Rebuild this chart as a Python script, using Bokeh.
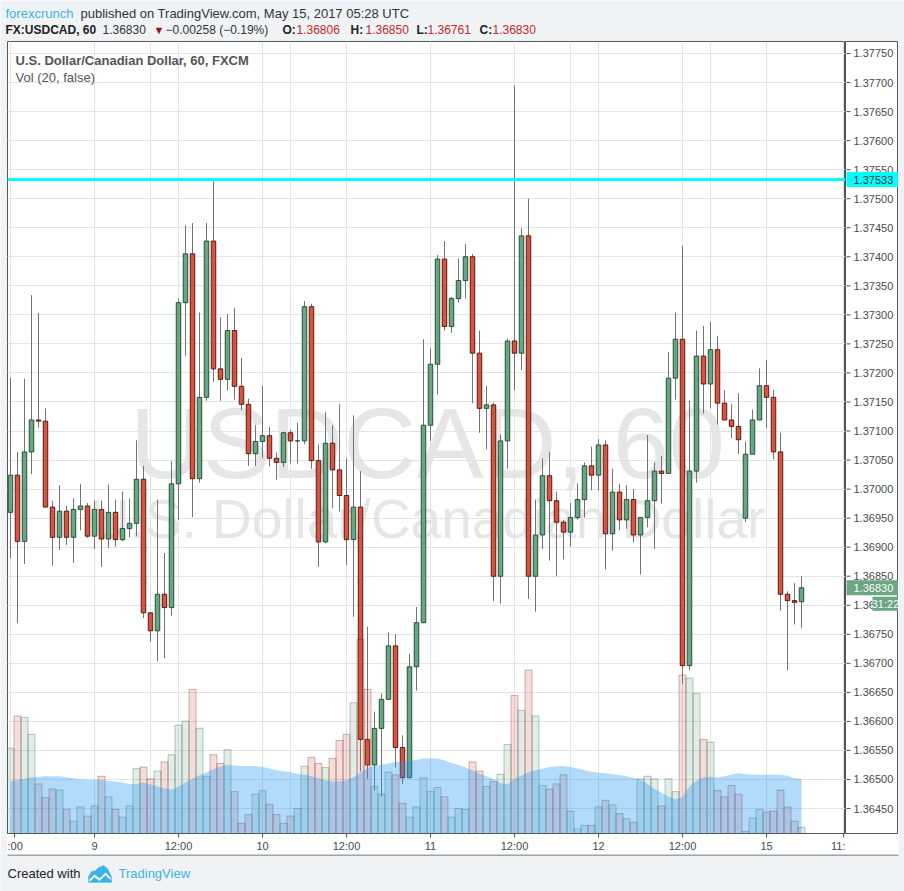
from bokeh.plotting import figure
from bokeh.layouts import column, row
from bokeh.models import (ColumnDataSource, Range1d, LinearAxis, FixedTicker,
                          Grid, Label, Span, PolyAnnotation, BoxAnnotation)
from bokeh.core.properties import value
from bokeh.embed import file_html
from bokeh.resources import INLINE

# ---------------- data (USDCAD, 60 min candles, May 8 12:00 -> May 15 05:00) ----------------
opens = [1.36960, 1.37024, 1.36910, 1.37064, 1.37119, 1.37117, 1.36969, 1.36917, 1.36962, 1.36917,
         1.36965, 1.36971, 1.36919, 1.36965, 1.36914, 1.36960, 1.36913, 1.36932, 1.36941, 1.37017,
         1.36787, 1.36756, 1.36819, 1.36796, 1.37009, 1.37321, 1.37405, 1.37018, 1.37158, 1.37427,
         1.37207, 1.37189, 1.37273, 1.37177, 1.37146, 1.37061, 1.37082, 1.37092, 1.37053, 1.37046,
         1.37097, 1.37083, 1.37083, 1.37314, 1.37049, 1.36909, 1.37079, 1.37033, 1.36989, 1.36913,
         1.36969, 1.36569, 1.36525, 1.36588, 1.36638, 1.36730, 1.36555, 1.36503, 1.36694, 1.36770,
         1.37110, 1.37215, 1.37396, 1.37280, 1.37328, 1.37359, 1.37400, 1.37234, 1.37139, 1.37145,
         1.36850, 1.37083, 1.37255, 1.37234, 1.37436, 1.36850, 1.36921, 1.37023, 1.36980, 1.36943,
         1.36926, 1.36951, 1.36982, 1.37040, 1.37024, 1.37076, 1.36923, 1.36995, 1.36947, 1.36982,
         1.36921, 1.36951, 1.36980, 1.37031, 1.37027, 1.37191, 1.37258, 1.36696, 1.37031, 1.37229,
         1.37181, 1.37240, 1.37148, 1.37119, 1.37108, 1.36950, 1.37060, 1.37119, 1.37178, 1.37158,
         1.37064, 1.36819, 1.36808, 1.36806]
highs = [1.37192, 1.37064, 1.37190, 1.37334, 1.37303, 1.37139, 1.36980, 1.37007, 1.36971, 1.36984,
         1.37009, 1.36976, 1.36980, 1.36980, 1.37008, 1.36982, 1.36996, 1.36984, 1.37084, 1.37040,
         1.36787, 1.36982, 1.36890, 1.37048, 1.37328, 1.37454, 1.37458, 1.37304, 1.37458, 1.37530,
         1.37296, 1.37302, 1.37312, 1.37226, 1.37156, 1.37110, 1.37178, 1.37107, 1.37063, 1.37099,
         1.37102, 1.37114, 1.37324, 1.37319, 1.37077, 1.37133, 1.37110, 1.37146, 1.37053, 1.37127,
         1.37031, 1.36763, 1.36617, 1.36648, 1.36753, 1.36750, 1.36576, 1.36716, 1.36797, 1.37258,
         1.37242, 1.37403, 1.37427, 1.37331, 1.37397, 1.37422, 1.37405, 1.37273, 1.37178, 1.37149,
         1.37094, 1.37259, 1.37695, 1.37449, 1.37500, 1.36982, 1.37053, 1.37064, 1.36996, 1.36947,
         1.36976, 1.37010, 1.37046, 1.37073, 1.37086, 1.37084, 1.37035, 1.37009, 1.37007, 1.37000,
         1.36951, 1.37093, 1.37046, 1.37057, 1.37236, 1.37304, 1.37419, 1.37152, 1.37273, 1.37281,
         1.37288, 1.37264, 1.37170, 1.37146, 1.37165, 1.37082, 1.37137, 1.37208, 1.37222, 1.37171,
         1.37097, 1.36824, 1.36838, 1.36850]
lows = [1.36881, 1.36769, 1.36871, 1.37026, 1.37106, 1.36969, 1.36868, 1.36895, 1.36904, 1.36873,
        1.36929, 1.36916, 1.36897, 1.36866, 1.36899, 1.36901, 1.36910, 1.36917, 1.36919, 1.36778,
        1.36737, 1.36703, 1.36709, 1.36782, 1.36947, 1.37229, 1.36952, 1.37011, 1.37152, 1.37185,
        1.37152, 1.37170, 1.37154, 1.37136, 1.37040, 1.37040, 1.37053, 1.37039, 1.37016, 1.37038,
        1.37044, 1.37044, 1.37077, 1.37035, 1.36866, 1.36907, 1.36967, 1.36961, 1.36869, 1.36780,
        1.36514, 1.36501, 1.36481, 1.36470, 1.36637, 1.36521, 1.36492, 1.36503, 1.36653, 1.36769,
        1.37083, 1.37163, 1.37273, 1.37269, 1.37321, 1.37328, 1.37148, 1.37097, 1.37068, 1.36807,
        1.36803, 1.37035, 1.37170, 1.37205, 1.36811, 1.36789, 1.36897, 1.36877, 1.36850, 1.36879,
        1.36901, 1.36947, 1.36951, 1.36998, 1.36998, 1.36862, 1.36894, 1.36929, 1.36932, 1.36908,
        1.36853, 1.36934, 1.36897, 1.36975, 1.37027, 1.37154, 1.36665, 1.36688, 1.37011, 1.37130,
        1.37139, 1.37111, 1.37119, 1.37088, 1.37060, 1.36943, 1.37060, 1.37119, 1.37105, 1.37051,
        1.36791, 1.36688, 1.36767, 1.36761]
closes = [1.37024, 1.36910, 1.37064, 1.37119, 1.37117, 1.36969, 1.36917, 1.36962, 1.36917, 1.36965,
          1.36971, 1.36919, 1.36965, 1.36914, 1.36960, 1.36913, 1.36932, 1.36941, 1.37017, 1.36787,
          1.36756, 1.36819, 1.36796, 1.37009, 1.37321, 1.37405, 1.37018, 1.37158, 1.37427, 1.37207,
          1.37189, 1.37273, 1.37177, 1.37146, 1.37061, 1.37082, 1.37092, 1.37053, 1.37046, 1.37097,
          1.37083, 1.37083, 1.37314, 1.37049, 1.36909, 1.37079, 1.37033, 1.36989, 1.36913, 1.36969,
          1.36569, 1.36525, 1.36588, 1.36638, 1.36730, 1.36555, 1.36503, 1.36694, 1.36770, 1.37110,
          1.37215, 1.37396, 1.37280, 1.37328, 1.37359, 1.37400, 1.37234, 1.37139, 1.37145, 1.36850,
          1.37083, 1.37255, 1.37234, 1.37436, 1.36850, 1.36921, 1.37023, 1.36980, 1.36943, 1.36926,
          1.36951, 1.36982, 1.37040, 1.37024, 1.37076, 1.36923, 1.36995, 1.36947, 1.36982, 1.36921,
          1.36951, 1.36980, 1.37031, 1.37027, 1.37191, 1.37258, 1.36696, 1.37031, 1.37229, 1.37181,
          1.37240, 1.37148, 1.37119, 1.37108, 1.37085, 1.37060, 1.37119, 1.37178, 1.37158, 1.37064,
          1.36819, 1.36808, 1.36805, 1.36830]
volumes = [167, 230, 227, 194, 97, 70, 87, 85, 47, 24, 52, 34, 54, 112, 72, 47, 32, 54, 127, 130,
           107, 122, 140, 154, 212, 220, 282, 206, 112, 154, 137, 164, 82, 20, 37, 77, 84, 57, 37, 20,
           34, 49, 132, 149, 137, 129, 147, 182, 194, 256, 380, 282, 92, 77, 120, 115, 59, 32, 52, 109,
           82, 90, 72, 32, 49, 47, 140, 122, 92, 102, 116, 174, 270, 241, 320, 230, 94, 87, 97, 115,
           44, 9, 16, 16, 52, 65, 56, 39, 29, 22, 107, 112, 107, 54, 107, 82, 310, 304, 274, 184,
           179, 84, 72, 94, 77, 4, 30, 47, 42, 44, 85, 52, 24, 12]
vol_ma = [102, 104, 107, 110, 111, 112, 112, 112, 110, 108, 106, 105, 105, 104, 103, 102, 100, 97, 97, 100,
          96, 92, 88, 86, 92, 100, 107, 114, 120, 126, 131, 134, 133, 132, 132, 132, 130, 127, 124, 122,
          120, 117, 115, 112, 108, 104, 102, 102, 104, 110, 120, 127, 132, 135, 137, 140, 141, 142, 144, 147,
          147, 147, 143, 138, 134, 129, 124, 117, 112, 106, 99, 96, 107, 113, 120, 124, 127, 130, 131, 132,
          130, 127, 124, 121, 119, 118, 116, 114, 112, 109, 105, 97, 87, 80, 72, 67, 72, 92, 103, 110,
          111, 110, 112, 115, 118, 116, 115, 115, 115, 115, 115, 113, 108, 107]
day_ticks = [0, 12, 24, 36, 48, 60, 72, 84, 96, 108, 119]
day_labels = [":00", "9", "12:00", "10", "12:00", "11", "12:00", "12", "12:00", "15", "11:"]
price_ticks = [1.3645, 1.3650, 1.3655, 1.3660, 1.3665, 1.3670, 1.3675, 1.3680, 1.3685,
               1.3690, 1.3695, 1.3700, 1.3705, 1.3710, 1.3715, 1.3720, 1.3725, 1.3730,
               1.3735, 1.3740, 1.3745, 1.3750, 1.3755, 1.3760, 1.3765, 1.3770, 1.3775]
alert_level = 1.37533
last_open, last_high, last_low, last_close = 1.36806, 1.36850, 1.36761, 1.36830
change_text = "\u22120.00258 (\u22120.19%)"
countdown = "31:22"

# ---------------- styling ----------------
UP, DOWN = "#6ba583", "#d75442"
UP_LINE, DOWN_LINE = "#225437", "#5b1a13"
WICK = "#737375"
GRID = "#e3e3e3"
AXIS = "#555555"
PAGE = "#f0f3f6"
FONT = "Liberation Sans"
PX_PER_PRICE = 58080.0          # vertical pixels per 1.0 of price

COMMON = dict(output_backend="svg", toolbar_location=None)


def blank(width, height, **kw):
    f = figure(width=width, height=height, x_axis_location=None, y_axis_location=None,
               min_border_left=0, min_border_right=0, min_border_top=0, min_border_bottom=0,
               **COMMON, **kw)
    f.background_fill_color = PAGE
    f.border_fill_color = PAGE
    f.outline_line_color = None
    f.grid.visible = False
    return f


# ---------------- main chart ----------------
xs = list(range(len(opens)))
is_up = [c >= o for o, c in zip(opens, closes)]
src = ColumnDataSource(dict(
    x=xs, high=highs, low=lows,
    top=[max(o, c) for o, c in zip(opens, closes)],
    bottom=[min(o, c) for o, c in zip(opens, closes)],
    fill=[UP if u else DOWN for u in is_up],
    line=[UP_LINE if u else DOWN_LINE for u in is_up],
    vol=volumes, ma=vol_ma,
))

FRAME_W, FRAME_H = 838, 792
yr = Range1d(1.3640702, 1.3777066)
m = figure(width=FRAME_W, height=FRAME_H + 21,
           x_range=Range1d(-3 / 7, -3 / 7 + FRAME_W / 7), y_range=yr,
           x_axis_location=None, y_axis_location=None,
           min_border_left=0, min_border_right=0, min_border_top=0, min_border_bottom=21,
           **COMMON)
m.extra_y_ranges = {"vol": Range1d(0, 1550)}
m.background_fill_color = "white"
m.border_fill_color = "white"
m.outline_line_color = AXIS

# watermark
m.add_layout(Label(x=420, y=391, x_units="screen", y_units="screen", text="USDCAD, 60",
                   text_font=FONT, text_font_size="101px", text_color="#e6e6e6",
                   text_align="center", text_baseline="alphabetic", level="image"))
m.add_layout(Label(x=420, y=315, x_units="screen", y_units="screen",
                   text="U.S. Dollar/Canadian Dollar",
                   text_font=FONT, text_font_size="55px", text_color="#e6e6e6",
                   text_align="center", text_baseline="alphabetic", level="image"))

axis_ticks = [0.55] + day_ticks[1:]
xaxis = LinearAxis(ticker=FixedTicker(ticks=axis_ticks),
                   major_label_overrides={t: lab for t, lab in zip(axis_ticks, day_labels)},
                   major_tick_out=4, major_tick_in=0, minor_tick_out=0, minor_tick_in=0,
                   axis_line_color=AXIS, major_tick_line_color=AXIS,
                   major_label_text_font=FONT, major_label_text_font_size="11px",
                   major_label_text_color="#4a4a4a", major_label_standoff=2)
m.add_layout(xaxis, "below")
m.add_layout(Grid(dimension=0, ticker=FixedTicker(ticks=day_ticks), grid_line_color=GRID))
m.add_layout(Grid(dimension=1, ticker=FixedTicker(ticks=price_ticks), grid_line_color=GRID))

# candles
m.segment(x0="x", y0="low", x1="x", y1="high", source=src, line_color=WICK, line_width=1)
m.vbar(x="x", width=0.64, top="top", bottom="bottom", fill_color="fill",
       line_color="line", line_width=1, source=src)

# volume + MA area (translucent, over the candles)
m.vbar(x="x", width=1.0, top="vol", bottom=0, y_range_name="vol", source=src,
       fill_color="fill", fill_alpha=0.2, line_color="line", line_alpha=0.3)
m.varea(x="x", y1=0, y2="ma", y_range_name="vol", source=src,
        fill_color="#2196f3", fill_alpha=0.35)

# alert line
m.add_layout(Span(location=alert_level, dimension="width", line_color="#00ffff", line_width=3))

# legend inside chart (screen coords relative to the frame)
for txt, sx, sy, style in [("U.S. Dollar/Canadian Dollar, 60, FXCM", 8, 773, "bold"),
                           ("Vol (20, false)", 8, 756, "normal")]:
    m.add_layout(Label(x=sx, y=sy, x_units="screen", y_units="screen", text=txt,
                       text_font=FONT, text_font_size="13px", text_color="#555555",
                       text_font_style=style, text_baseline="middle"))

# ---------------- price scale ----------------
ps = figure(width=53, height=FRAME_H + 21, x_range=Range1d(0, 53), y_range=yr,
            x_axis_location=None, y_axis_location=None,
            min_border_left=0, min_border_right=0, min_border_top=0, min_border_bottom=21,
            **COMMON)
ps.background_fill_color = "white"
ps.border_fill_color = "white"
ps.outline_line_color = AXIS
ps.grid.visible = False
tick_src = ColumnDataSource(dict(y=price_ticks, lab=[f"{t:.5f}" for t in price_ticks]))
ps.segment(x0=1, x1=5, y0="y", y1="y", source=tick_src, line_color=AXIS)
ps.text(x=8, y="y", text="lab", source=tick_src, text_font=value(FONT),
        text_font_size=value("11px"), text_color="#4a4a4a", text_baseline="middle")

box_y = [alert_level, last_close]
ps.rect(x=[27, 27], y=box_y, width=52, height=15, height_units="screen",
        fill_color=["#00ffff", UP], line_color=None)
ps.text(x=[8, 8], y=box_y, text=[f"{alert_level:.5f}", f"{last_close:.5f}"],
        text_font=value(FONT), text_font_size=value("11px"),
        text_color=["#333333", "white"], text_baseline="middle")
cd_y = last_close - 16 / PX_PER_PRICE
ps.rect(x=[40], y=[cd_y], width=26, height=14, height_units="screen",
        fill_color=UP, line_color=None)
ps.text(x=[40], y=[cd_y], text=[countdown], text_font=value(FONT),
        text_font_size=value("11px"), text_color="white", text_align="center",
        text_baseline="middle")

# ---------------- header ----------------
hd = blank(904, 41, x_range=Range1d(0, 904), y_range=Range1d(41, 0))
RED = "#c62828"


def hl(fig, text, x, y, size="13px", color="#333333", style="normal"):
    fig.add_layout(Label(x=x, y=y, text=text, text_font=FONT, text_font_size=size,
                         text_color=color, text_font_style=style, text_align="left",
                         text_baseline="middle"))


hl(hd, "forexcrunch", 5, 13, color="#3bb3e4")
hl(hd, "published on TradingView.com, May 15, 2017 05:28 UTC", 80, 13)
hl(hd, "FX:USDCAD, 60", 5, 29, size="12px", style="bold", color="#222222")
hl(hd, f"{last_close:.5f}", 102, 29, size="12px")
hl(hd, "\u25bc", 153, 29, size="11px", color="#a01010")
hl(hd, change_text, 165, 29, size="12px")
hl(hd, "O:", 282, 29, size="12px", style="bold", color="#222222")
hl(hd, f"{last_open:.5f}", 296, 29, size="12px", color=RED)
hl(hd, "H:", 350, 29, size="12px", style="bold", color="#222222")
hl(hd, f"{last_high:.5f}", 365, 29, size="12px", color=RED)
hl(hd, "L:", 416, 29, size="12px", style="bold", color="#222222")
hl(hd, f"{last_low:.5f}", 427, 29, size="12px", color=RED)
hl(hd, "C:", 479, 29, size="12px", style="bold", color="#222222")
hl(hd, f"{last_close:.5f}", 492, 29, size="12px", color=RED)

# ---------------- footer ----------------
ft = blank(904, 37, x_range=Range1d(0, 904), y_range=Range1d(891, 854))
ft.add_layout(BoxAnnotation(left=7, right=898, top=854, bottom=855,
                            fill_color=AXIS, fill_alpha=1.0, line_color=None))
hl(ft, "Created with", 7, 873, color="#222222")
hl(ft, "TradingView", 118, 873, color="#3bb3e4")
ft.add_layout(PolyAnnotation(xs=[88, 88, 91, 95, 98, 103, 107, 109, 111, 111],
                             ys=[882, 876, 871, 870, 867, 865, 868, 872, 876, 882],
                             fill_color="#3bb3e4", fill_alpha=1.0, line_color="#3bb3e4"))
ft.add_layout(PolyAnnotation(xs=[89, 94, 99, 105, 110, 110, 105, 99, 94, 89],
                             ys=[879, 874, 878, 872, 877, 879.5, 874.5, 880.5, 876.5, 881.5],
                             fill_color="white", fill_alpha=1.0, line_color=None))

left_pad = blank(7, FRAME_H + 21, x_range=Range1d(0, 1), y_range=Range1d(0, 1))
right_pad = blank(6, FRAME_H + 21, x_range=Range1d(0, 1), y_range=Range1d(0, 1))

page = column(hd, row(left_pad, m, ps, right_pad), ft)
open("out.html", "w").write(file_html(page, INLINE))
